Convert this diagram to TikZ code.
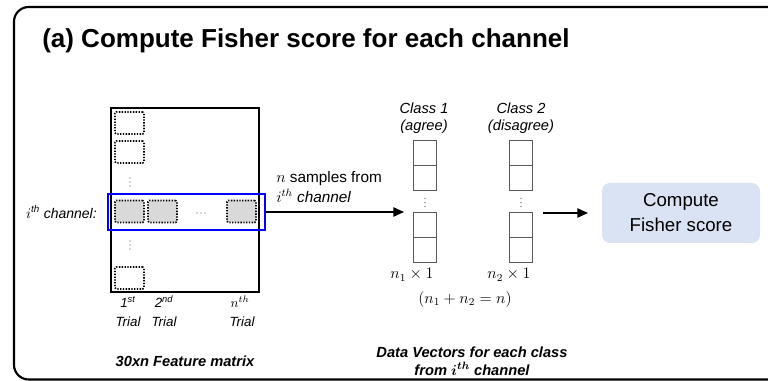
\documentclass[tikz,border=0pt]{standalone}
\usepackage{fontspec}
\setmainfont{Liberation Sans}
\usetikzlibrary{arrows.meta}
\definecolor{boxblue}{HTML}{DAE3F3}
\definecolor{cellgray}{HTML}{D9D9D9}
\definecolor{vecgray}{HTML}{595959}
\begin{document}
\begin{tikzpicture}[x=0.75pt,y=-0.75pt,
  cell/.style={draw=black,line width=1.2pt,dash pattern=on 1pt off 1.1pt,rounded corners=1pt,minimum width=21.75pt,minimum height=16.5pt,inner sep=0pt},
  graycell/.style={cell,fill=cellgray},
  veccell/.style={draw=vecgray,line width=0.6pt,minimum width=17.25pt,minimum height=18.75pt,inner sep=0pt},
  dotmark/.style={circle,fill=black!70,inner sep=0pt,minimum size=1.1pt},
  arr/.style={line width=1.1pt,-{Triangle[length=8pt,width=7pt]}},
  lbl/.style={inner sep=0pt,font=\fontsize{10}{12}\selectfont\itshape},
]
\useasboundingbox (0,0) rectangle (768,381);
\begin{scope}
\clip (0,0) rectangle (768,381);
\draw[line width=1.6pt,rounded corners=11pt] (14,7) rectangle (800,379.5);
\end{scope}

% title
\node[anchor=base west,inner sep=0pt,font=\fontsize{19.5}{23}\selectfont\bfseries] (title) at (42,48) {(a) Compute Fisher score for each channel};

% feature matrix
\node[draw=black,line width=1pt,minimum width=111pt,minimum height=138pt,inner sep=0pt] (mat) at (185,200) {};
\node[cell] (c1) at (129.5,123) {};
\node[cell] (c2) at (129.5,152) {};
\node[cell] (c6) at (129.5,278) {};
\node[graycell] (r1) at (129.5,211.5) {};
\node[graycell] (r2) at (162.5,211.5) {};
\node[graycell] (r3) at (241.5,211.5) {};
\foreach \yy [count=\k] in {178,182,186} {\node[dotmark] (vd\k) at (130,\yy) {};}
\foreach \yy [count=\k] in {241,245,249} {\node[dotmark] (vl\k) at (130,\yy) {};}
\foreach \xx [count=\k] in {197,201,205} {\node[dotmark] (hd\k) at (\xx,213) {};}
\node[draw=blue,line width=1.5pt,minimum width=117.75pt,minimum height=27pt,inner sep=0pt] (row) at (186.5,212) {};

\node[anchor=east,inner sep=0pt,font=\fontsize{10.5}{12}\selectfont] (chan) at (97,212) {$i$\textsuperscript{\itshape th} \textit{channel:}};

\node[lbl,anchor=base] (t1) at (128,307) {1\textsuperscript{st}};
\node[lbl,anchor=base] (t2) at (164,307) {2\textsuperscript{nd}};
\node[lbl,anchor=base] (tn) at (240,307) {$n^{th}$};
\node[lbl,anchor=base] (u1) at (128,326) {Trial};
\node[lbl,anchor=base] (u2) at (164,326) {Trial};
\node[lbl,anchor=base] (un) at (242,326) {Trial};
\node[inner sep=0pt,font=\fontsize{11}{13}\selectfont\bfseries\itshape] (fm) at (185,361) {30xn Feature matrix};

% arrow 1
\coordinate (a1e) at (404,212);
\draw[arr] (row.east) -- (a1e);
\node[anchor=west,inner sep=0pt,align=left,font=\fontsize{11.5}{15}\selectfont] (samp) at (276,187) {$n$ samples from\\$i^{th}$ \textit{channel}};

% class vectors
\node[inner sep=0pt,align=center,font=\fontsize{11}{12.75}\selectfont] (cl1) at (424,118.5) {\textit{Class 1}\\\textit{(agree)}};
\node[inner sep=0pt,align=center,font=\fontsize{11}{12.75}\selectfont] (cl2) at (521,118.5) {\textit{Class 2}\\\textit{(disagree)}};
\node[veccell] (v11) at (424.5,152.5) {};
\node[veccell] (v12) at (424.5,177.5) {};
\node[veccell] (v13) at (424.5,225) {};
\node[veccell] (v14) at (424.5,249.5) {};
\node[veccell] (v21) at (521,152.5) {};
\node[veccell] (v22) at (521,177.5) {};
\node[veccell] (v23) at (521,225) {};
\node[veccell] (v24) at (521,249.5) {};
\foreach \yy [count=\k] in {198.5,202.5,206.5} {\node[dotmark,minimum size=0.9pt] (ca\k) at (425,\yy) {}; \node[dotmark,minimum size=0.9pt] (cb\k) at (521,\yy) {};}
\node[inner sep=0pt,font=\fontsize{11.5}{13}\selectfont] (n1) at (412,275) {$n_1\times 1$};
\node[inner sep=0pt,font=\fontsize{11.5}{13}\selectfont] (n2) at (509,275) {$n_2\times 1$};
\node[inner sep=0pt,font=\fontsize{11.5}{13}\selectfont] (nsum) at (465,299) {$(n_1+n_2=n)$};
\node[inner sep=0pt,align=center,font=\fontsize{11}{13.5}\selectfont\bfseries\itshape\boldmath] (dv) at (472,361) {Data Vectors for each class\\from $i^{th}$ channel};

% arrow 2 and box
\coordinate (a2s) at (543,213);
\coordinate (a2e) at (588,213);
\draw[arr] (a2s) -- (a2e);
\node[fill=boxblue,rounded corners=6pt,minimum width=118.5pt,minimum height=45pt,inner sep=0pt,align=center,font=\fontsize{14}{18.75}\selectfont] (fs) at (681,213) {Compute\\Fisher score};
\end{tikzpicture}
\end{document}
